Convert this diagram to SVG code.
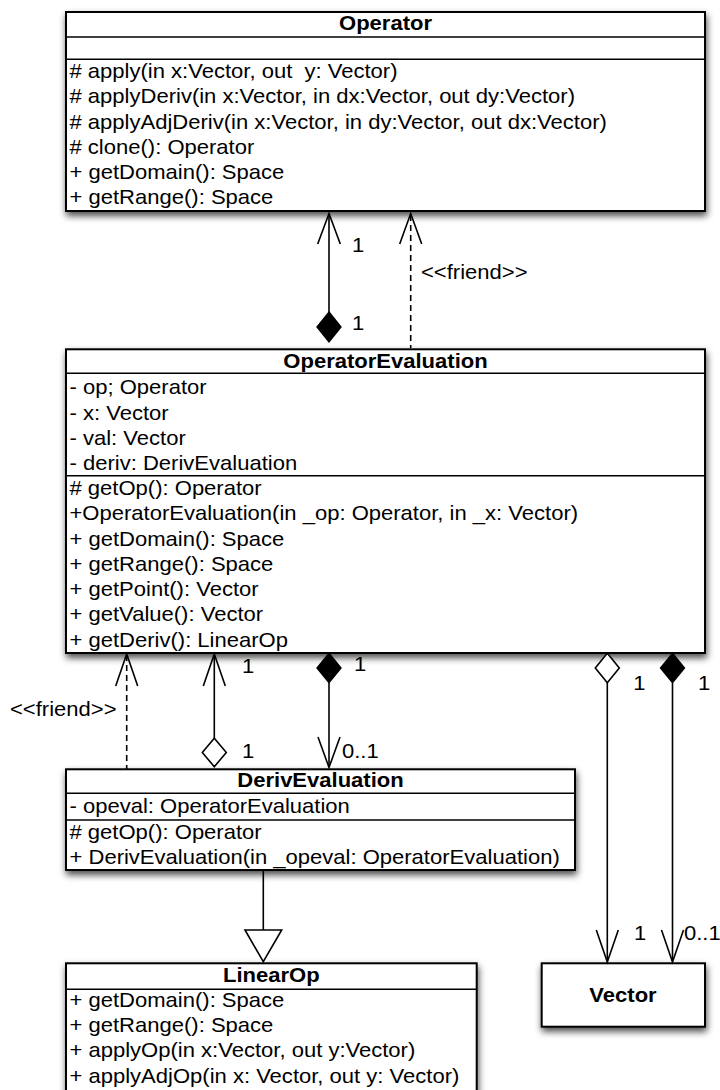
<svg xmlns="http://www.w3.org/2000/svg" width="720" height="1090" viewBox="0 0 720 1090">
  <defs>
    <filter id="shadow" x="-10%" y="-15%" width="125%" height="140%">
      <feDropShadow dx="1" dy="4" stdDeviation="3.5" flood-color="#000" flood-opacity="0.7"/>
    </filter>
    <style>
      text { font-family: "Liberation Sans", Arial, Helvetica, sans-serif; font-size: 20.5px; fill: #000; }
      .title { font-weight: bold; text-anchor: middle; }
      .mid { text-anchor: middle; }
      .box { fill: #fff; stroke: #000; stroke-width: 2; }
      .sep { stroke: #000; stroke-width: 1.6; }
      .line { fill: none; stroke: #000; stroke-width: 1.6; }
      .dash { fill: none; stroke: #000; stroke-width: 1.6; stroke-dasharray: 6 4; }
      .head { fill: none; stroke: #000; stroke-width: 1.6; stroke-linejoin: miter; }
      .solid { fill: #000; stroke: #000; stroke-width: 1.4; }
      .hollow { fill: #fff; stroke: #000; stroke-width: 1.6; }
    </style>
  </defs>

  <rect width="720" height="1090" fill="#fff"/>

  <!-- Operator class -->
  <g id="operator">
    <rect class="box" x="66" y="12" width="639" height="199" filter="url(#shadow)"/>
    <line class="sep" x1="66" y1="37" x2="705" y2="37"/>
    <line class="sep" x1="66" y1="59.3" x2="705" y2="59.3"/>
    <text class="title" transform="translate(385.5 30) scale(1.075 1)">Operator</text>
    <g transform="translate(69.5 0) scale(1.075 1)">
      <text y="78">#&#160;apply(in x:Vector, out&#160;&#160;y: Vector)</text>
      <text y="103.3"># applyDeriv(in x:Vector, in dx:Vector, out dy:Vector)</text>
      <text y="128.6"># applyAdjDeriv(in x:Vector, in dy:Vector, out dx:Vector)</text>
      <text y="153.9"># clone(): Operator</text>
      <text y="179.2">+ getDomain(): Space</text>
      <text y="204.5">+ getRange(): Space</text>
    </g>
  </g>

  <!-- OperatorEvaluation class -->
  <g id="operator-evaluation">
    <rect class="box" x="66" y="349.3" width="639" height="303.7" filter="url(#shadow)"/>
    <line class="sep" x1="66" y1="373.3" x2="705" y2="373.3"/>
    <line class="sep" x1="66" y1="475.7" x2="705" y2="475.7"/>
    <text class="title" transform="translate(385.5 368.3) scale(1.075 1)">OperatorEvaluation</text>
    <g transform="translate(69.5 0) scale(1.075 1)">
      <text y="394.3">- op; Operator</text>
      <text y="419.6">- x: Vector</text>
      <text y="444.9">- val: Vector</text>
      <text y="470.2">- deriv: DerivEvaluation</text>
      <text y="495"># getOp(): Operator</text>
      <text y="520.3">+OperatorEvaluation(in _op: Operator, in _x: Vector)</text>
      <text y="545.6">+ getDomain(): Space</text>
      <text y="570.9">+ getRange(): Space</text>
      <text y="596.2">+ getPoint(): Vector</text>
      <text y="621.5">+ getValue(): Vector</text>
      <text y="646.8">+ getDeriv(): LinearOp</text>
    </g>
  </g>

  <!-- DerivEvaluation class -->
  <g id="deriv-evaluation">
    <rect class="box" x="66" y="769.3" width="509" height="100.7" filter="url(#shadow)"/>
    <line class="sep" x1="66" y1="793.3" x2="575" y2="793.3"/>
    <line class="sep" x1="66" y1="820" x2="575" y2="820"/>
    <text class="title" transform="translate(320.5 787.3) scale(1.075 1)">DerivEvaluation</text>
    <g transform="translate(69.5 0) scale(1.075 1)">
      <text y="813.3">- opeval: OperatorEvaluation</text>
      <text y="839"># getOp(): Operator</text>
      <text y="864">+ DerivEvaluation(in _opeval: OperatorEvaluation)</text>
    </g>
  </g>

  <!-- LinearOp class (continues past the bottom edge) -->
  <g id="linear-op">
    <rect class="box" x="66" y="963.3" width="410.7" height="140" filter="url(#shadow)"/>
    <line class="sep" x1="66" y1="989.3" x2="476.7" y2="989.3"/>
    <text class="title" transform="translate(271.3 981.7) scale(1.075 1)">LinearOp</text>
    <g transform="translate(69.5 0) scale(1.075 1)">
      <text y="1006.7">+ getDomain(): Space</text>
      <text y="1032">+ getRange(): Space</text>
      <text y="1057.3">+ applyOp(in x:Vector, out y:Vector)</text>
      <text y="1082.6">+ applyAdjOp(in x: Vector, out y: Vector)</text>
    </g>
  </g>

  <!-- Vector class -->
  <g id="vector">
    <rect class="box" x="541.7" y="963.3" width="163.3" height="63.4" filter="url(#shadow)"/>
    <text class="title" transform="translate(623 1001.7) scale(1.075 1)">Vector</text>
  </g>

  <!-- Connectors -->
  <g id="connectors">
    <!-- OperatorEvaluation composes Operator -->
    <line class="line" x1="329" y1="214" x2="329" y2="312"/>
    <path class="head" d="M317.7,244 L329,213.5 L340.3,244"/>
    <path class="solid" d="M329,312 L341,327 L329,342 L317,327 Z"/>

    <!-- friend dependency to Operator -->
    <line class="dash" x1="410.7" y1="215" x2="410.7" y2="348.3"/>
    <path class="head" d="M399.7,244 L410.7,213.5 L421.7,244"/>

    <!-- friend dependency from DerivEvaluation -->
    <line class="dash" x1="126.7" y1="655" x2="126.7" y2="769.3"/>
    <path class="head" d="M115.7,686 L126.7,654 L137.7,686"/>

    <!-- DerivEvaluation aggregates OperatorEvaluation -->
    <line class="line" x1="214.3" y1="655" x2="214.3" y2="738.3"/>
    <path class="head" d="M203.3,686 L214.3,654 L225.3,686"/>
    <path class="hollow" d="M214.3,738.3 L226.3,752.5 L214.3,766.7 L202.3,752.5 Z"/>

    <!-- OperatorEvaluation composes DerivEvaluation -->
    <path class="solid" d="M329,653.3 L341,668 L329,682.7 L317,668 Z"/>
    <line class="line" x1="329" y1="682.7" x2="329" y2="766"/>
    <path class="head" d="M318,737 L329,767.5 L340,737"/>

    <!-- OperatorEvaluation aggregates Vector (x) -->
    <path class="hollow" d="M607.3,653.3 L619.3,668 L607.3,682.7 L595.3,668 Z"/>
    <line class="line" x1="607.3" y1="682.7" x2="607.3" y2="961"/>
    <path class="head" d="M596.3,930 L607.3,962 L618.3,930"/>

    <!-- OperatorEvaluation composes Vector (val) -->
    <path class="solid" d="M672.5,653.3 L684.5,668 L672.5,682.7 L660.5,668 Z"/>
    <line class="line" x1="672.5" y1="682.7" x2="672.5" y2="961"/>
    <path class="head" d="M661.5,930 L672.5,962 L683.5,930"/>

    <!-- DerivEvaluation generalizes LinearOp -->
    <line class="line" x1="263.3" y1="870" x2="263.3" y2="930"/>
    <path class="hollow" d="M245,930 L281.7,930 L263.3,961.7 Z"/>
  </g>

  <!-- Connector labels -->
  <g id="connector-labels">
    <text class="mid" transform="translate(358 252) scale(1.075 1)">1</text>
    <text class="mid" transform="translate(358 330) scale(1.075 1)">1</text>
    <text transform="translate(421 279.3) scale(1.075 1)">&lt;&lt;friend&gt;&gt;</text>
    <text transform="translate(10 716) scale(1.075 1)">&lt;&lt;friend&gt;&gt;</text>
    <text class="mid" transform="translate(248 673) scale(1.075 1)">1</text>
    <text class="mid" transform="translate(248 758) scale(1.075 1)">1</text>
    <text class="mid" transform="translate(360 671) scale(1.075 1)">1</text>
    <text transform="translate(342 758) scale(1.075 1)">0..1</text>
    <text class="mid" transform="translate(639.3 690) scale(1.075 1)">1</text>
    <text class="mid" transform="translate(704 690) scale(1.075 1)">1</text>
    <text class="mid" transform="translate(640 940) scale(1.075 1)">1</text>
    <text transform="translate(684 940) scale(1.075 1)">0..1</text>
  </g>
</svg>
